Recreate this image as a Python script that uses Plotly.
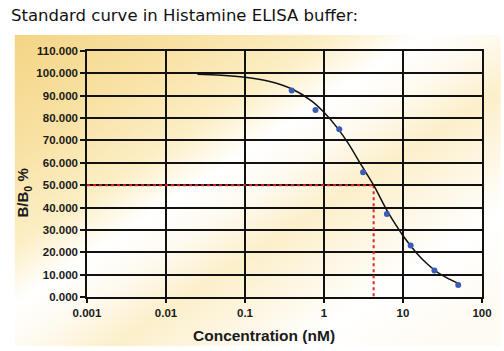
import base64
import plotly.graph_objects as go

# ---- data ----
conc_points = [0.39, 0.78, 1.56, 3.125, 6.25, 12.5, 25, 50]
bb0_points = [92.3, 83.6, 75.0, 55.8, 37.1, 23.0, 11.9, 5.4]

curve_conc = [0.025, 0.05, 0.1, 0.2, 0.4, 0.7, 1, 1.5, 2, 3, 4.25, 6, 8, 10, 15, 20, 30, 50]
curve_bb0 = [99.6, 99.2, 98.3, 96.5, 92.9, 87.6, 82.6, 75.3, 69.0, 58.7, 50.0, 39.9, 32.6, 27.4, 19.5, 15.0, 10.1, 6.1]

ic50_conc = 4.25
half_level = 50
x_min_conc = 0.001
y_floor = 0

x_tickvals = [0.001, 0.01, 0.1, 1, 10, 100]
x_ticktext = ["0.001", "0.01", "0.1", "1", "10", "100"]
y_tickvals = [0, 10, 20, 30, 40, 50, 60, 70, 80, 90, 100, 110]

title_text = "Standard curve in Histamine ELISA buffer:"
x_title = "Concentration (nM)"
y_title = "B/B<sub>0</sub> %"

# ---- background gradient (SVG) ----
W, H = 490, 311
svg = f'''<svg xmlns="http://www.w3.org/2000/svg" width="{W}" height="{H}" viewBox="0 0 {W} {H}" preserveAspectRatio="none">
<defs><linearGradient id="g" gradientUnits="userSpaceOnUse" x1="0" y1="0" x2="{W*0.55}" y2="{H*1.32}">
<stop offset="0" stop-color="#f4d585"/>
<stop offset="0.2" stop-color="#f8e1a3"/>
<stop offset="0.36" stop-color="#fcefc6"/>
<stop offset="0.46" stop-color="#ffffff"/>
<stop offset="0.54" stop-color="#fefaf0"/>
<stop offset="0.64" stop-color="#fcefca"/>
<stop offset="0.74" stop-color="#fdf6e2"/>
<stop offset="0.85" stop-color="#ffffff"/>
<stop offset="1" stop-color="#fefbf2"/>
</linearGradient></defs>
<rect x="0" y="0" width="{W}" height="{H}" fill="url(#g)"/>
</svg>'''
svg_uri = "data:image/svg+xml;base64," + base64.b64encode(svg.encode()).decode()

PL, PR, PT, PB = 87, 485, 51, 297
pw, ph = PR - PL, PB - PT
def px(x):
    return (x - PL) / pw
def py(y):
    return (PB - y) / ph

fig = go.Figure()

# reference lines (IC50)
fig.add_trace(go.Scatter(x=[x_min_conc, ic50_conc], y=[half_level, half_level], mode="lines",
                         line=dict(color="#e3242b", width=2, dash="dot"), hoverinfo="skip"))
fig.add_trace(go.Scatter(x=[ic50_conc, ic50_conc], y=[half_level, y_floor], mode="lines",
                         line=dict(color="#e3242b", width=2, dash="dot"), hoverinfo="skip"))
# fitted curve
fig.add_trace(go.Scatter(x=curve_conc, y=curve_bb0, mode="lines",
                         line=dict(color="#111111", width=1.5, shape="spline"), hoverinfo="skip"))
# points
fig.add_trace(go.Scatter(x=conc_points, y=bb0_points, mode="markers",
                         marker=dict(color="#3a5cb5", size=6)))

font_axis = dict(family="Liberation Sans, Arial, sans-serif", size=11.5, color="#1a1a1a", weight="bold")

fig.update_layout(
    width=504, height=351,
    margin=dict(l=PL, r=504 - PR, t=PT, b=351 - PB, pad=0),
    paper_bgcolor="white",
    plot_bgcolor="rgba(0,0,0,0)",
    showlegend=False,
    xaxis=dict(type="log", range=[-3, 2], tickvals=x_tickvals, ticktext=x_ticktext,
               showgrid=True, gridcolor="#111111", gridwidth=1.5,
               showline=True, linecolor="#111111", linewidth=1.5, mirror=True,
               ticks="outside", ticklen=4, tickcolor="#111111", tickwidth=1.5,
               tickfont=font_axis, zeroline=False),
    yaxis=dict(range=[0, 110], tickvals=y_tickvals, tickformat=".3f",
               showgrid=True, gridcolor="#111111", gridwidth=1.5,
               showline=True, linecolor="#111111", linewidth=1.5, mirror=True,
               ticks="outside", ticklen=5, tickcolor="#111111", tickwidth=1.5,
               tickfont=font_axis, zeroline=False),
    images=[dict(source=svg_uri, xref="paper", yref="paper",
                 x=px(14), y=py(35), sizex=px(504) - px(14), sizey=py(35) - py(346),
                 xanchor="left", yanchor="top", sizing="stretch", layer="below")],
    annotations=[
        dict(text=title_text, xref="paper", yref="paper", x=px(8), y=py(15),
             xanchor="left", yanchor="middle", showarrow=False,
             font=dict(family="DejaVu Sans, Verdana, sans-serif", size=16.5, color="#111111")),
        dict(text=x_title, xref="paper", yref="paper", x=px(265.5), y=py(335),
             xanchor="center", yanchor="middle", showarrow=False,
             font=dict(family="Liberation Sans, Arial, sans-serif", size=15.5, color="#1a1a1a", weight="bold")),
        dict(text=y_title, xref="paper", yref="paper", x=px(24), y=py(193),
             xanchor="center", yanchor="middle", showarrow=False, textangle=-90,
             font=dict(family="Liberation Sans, Arial, sans-serif", size=15, color="#1a1a1a", weight="bold")),
    ],
)

fig.write_html("out.html")
